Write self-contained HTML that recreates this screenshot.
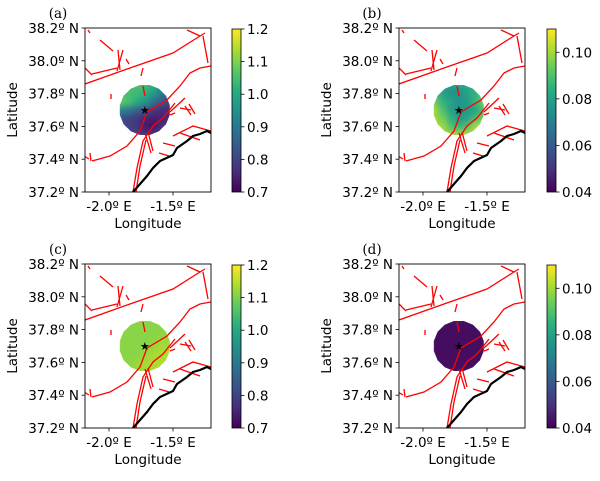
<!DOCTYPE html>
<html><head><meta charset="utf-8"><style>
body{margin:0;background:#fff}
svg text{font-family:"DejaVu Sans","Liberation Sans",sans-serif;fill:#000}
</style></head><body>
<svg id="fig" width="600" height="476" viewBox="0 0 600 476" xmlns="http://www.w3.org/2000/svg">
<defs>
<linearGradient id="vir" x1="0" y1="1" x2="0" y2="0">
<stop offset="0" stop-color="#440154"/><stop offset="0.125" stop-color="#472d7b"/><stop offset="0.25" stop-color="#3b528b"/><stop offset="0.375" stop-color="#2c728e"/><stop offset="0.5" stop-color="#21918c"/><stop offset="0.625" stop-color="#28ae80"/><stop offset="0.75" stop-color="#5ec962"/><stop offset="0.875" stop-color="#addc30"/><stop offset="1" stop-color="#fde725"/>
</linearGradient>
<filter id="blur" x="-20%" y="-20%" width="140%" height="140%"><feGaussianBlur stdDeviation="3"/></filter>
</defs>
</svg>
<script>
const lonTicks=[-2.0,-1.5];
const lonTickLabels=["-2.0º E","-1.5º E"];
const latTicks=[38.2,38.0,37.8,37.6,37.4,37.2];
const latTickLabels=["38.2º N","38.0º N","37.8º N","37.6º N","37.4º N","37.2º N"];
const cbTicksA=[0.7,0.8,0.9,1.0,1.1,1.2];
const cbLabelsA=["0.7","0.8","0.9","1.0","1.1","1.2"];
const cbTicksB=[0.04,0.06,0.08,0.10];
const cbLabelsB=["0.04","0.06","0.08","0.10"];
const epiLon=-1.72, epiLat=37.70;
const gridA=[[1.04,1.05,1.05,1.04,1.02,0.97,0.92],[1.06,1.05,1.04,1.02,0.97,0.90,0.86],[1.08,1.05,1.01,0.96,0.89,0.83,0.80],[0.92,0.90,0.85,0.82,0.78,0.76,0.76],[0.82,0.80,0.78,0.75,0.74,0.75,0.76],[0.82,0.80,0.78,0.74,0.73,0.76,0.80],[0.84,0.82,0.80,0.78,0.78,0.80,0.84]];
const gridB=[[0.085,0.08,0.078,0.08,0.082,0.085,0.09],[0.09,0.08,0.076,0.075,0.08,0.085,0.092],[0.095,0.085,0.08,0.076,0.078,0.085,0.095],[0.10,0.09,0.08,0.075,0.078,0.08,0.09],[0.10,0.095,0.085,0.078,0.08,0.088,0.095],[0.102,0.10,0.09,0.085,0.09,0.10,0.105],[0.10,0.10,0.10,0.10,0.10,0.105,0.105]];
const gridC=[[1.11,1.11,1.11,1.11,1.11,1.11,1.11],[1.11,1.11,1.11,1.11,1.11,1.11,1.12],[1.11,1.11,1.11,1.11,1.11,1.12,1.12],[1.11,1.11,1.11,1.11,1.12,1.13,1.13],[1.11,1.11,1.11,1.12,1.13,1.14,1.14],[1.11,1.11,1.12,1.13,1.14,1.14,1.14],[1.11,1.11,1.12,1.13,1.13,1.14,1.14]];
const gridD=[[0.043,0.043,0.043,0.043,0.043,0.043,0.043],[0.043,0.043,0.043,0.043,0.043,0.043,0.043],[0.043,0.043,0.043,0.043,0.043,0.043,0.043],[0.043,0.043,0.043,0.043,0.043,0.043,0.043],[0.043,0.043,0.043,0.043,0.043,0.043,0.043],[0.043,0.043,0.043,0.043,0.043,0.043,0.043],[0.043,0.043,0.043,0.043,0.043,0.043,0.043]];
const faults=[[[0,56],[45,40],[88,25],[115,8],[120,5]],[[7,46],[32,40]],[[15,12],[28,23]],[[33,22],[35,42]],[[38,22],[32,43]],[[41,31],[44,36]],[[3,2],[5,5]],[[102,2],[115,8]],[[118,8],[123,35]],[[0,40],[7,47]],[[58,40],[56,48]],[[58,58],[60,68]],[[26,66],[26,71]],
[[7,133],[25,128],[42,118],[55,103],[62,84],[82,72],[95,58],[105,45],[115,40],[126,38]],
[[48,164],[52,140],[58,113],[68,98],[78,90],[90,75]],[[51,164],[55,138],[61,112]],
[[85,84],[100,70]],[[95,80],[106,82]],[[100,78],[106,87]],[[104,76],[110,86]],[[85,87],[90,85]],
[[88,108],[108,98],[126,103]],[[95,105],[115,112]],[[78,115],[90,118]],[[74,125],[84,128]],[[60,105],[66,125]],[[63,104],[68,123]],
[[5,125],[6,133]],[[-1,128],[4,131]]];
const coast=[[48,164],[62,148],[68,140],[75,133],[88,127],[92,120],[102,113],[108,108],[115,106],[122,103],[126,105]];
const W=126,H=164, lon0=-2.1875, lon1=-1.203, lat0=37.2, lat1=38.2;
const panels=[{id:'a',x:85,y:28,grid:gridA,vmin:0.7,vmax:1.2,ticks:cbTicksA,labels:cbLabelsA,cbx:232},
{id:'b',x:399,y:28,grid:gridB,vmin:0.04,vmax:0.11,ticks:cbTicksB,labels:cbLabelsB,cbx:547},
{id:'c',x:85,y:264,grid:gridC,vmin:0.7,vmax:1.2,ticks:cbTicksA,labels:cbLabelsA,cbx:232},
{id:'d',x:399,y:264,grid:gridD,vmin:0.04,vmax:0.11,ticks:cbTicksB,labels:cbLabelsB,cbx:547}];
const vir=[[68,1,84],[71,45,123],[59,82,139],[44,114,142],[33,145,140],[40,174,128],[94,201,98],[173,220,48],[253,231,37]];
function cmap(t){t=Math.max(0,Math.min(1,t))*8;const i=Math.min(7,Math.floor(t)),f=t-i;const a=vir[i],b=vir[i+1];return 'rgb('+a.map((v,k)=>Math.round(v+(b[k]-v)*f)).join(',')+')';}
const NS='http://www.w3.org/2000/svg';
const svg=document.getElementById('fig');
const FS=13.5;
function mk(tag,attrs,parent){const e=document.createElementNS(NS,tag);for(const k in attrs)e.setAttribute(k,attrs[k]);(parent||svg).appendChild(e);return e;}
panels.forEach(p=>{
  const xs=lon=>p.x+(lon-lon0)/(lon1-lon0)*W;
  const ys=lat=>p.y+(lat1-lat)/(lat1-lat0)*H;
  const g=mk('g',{});
  
  
  const cx=xs(epiLon), cy=ys(epiLat), r=25.5;
  const cp=mk('clipPath',{id:'clip'+p.id},g);
  let pts=[];for(let k=0;k<16;k++){const a=Math.PI*2*k/16+Math.PI/16;pts.push((cx+r*Math.cos(a)).toFixed(1)+','+(cy+r*Math.sin(a)).toFixed(1));}
  mk('polygon',{points:pts.join(' ')},cp);
  const hg=mk('g',{'clip-path':'url(#clip'+p.id+')'},g);
  
  
  const inner=mk('g',{filter:'url(#blur)'},hg);
  const n=p.grid.length, cs=2*r/n;
  p.grid.forEach((row,i)=>row.forEach((v,j)=>{
    const rc=mk('rect',{x:cx-r-4+j*(cs+8/n),y:cy-r-4+i*(cs+8/n),width:cs+8/n+0.5,height:cs+8/n+0.5,fill:cmap((v-p.vmin)/(p.vmax-p.vmin))},inner);
    
    
  }));
  const fg=mk('g',{transform:'translate('+p.x+','+p.y+')'},g);
  const ccl=mk('clipPath',{id:'box'+p.id},g);mk('rect',{x:0,y:0,width:W,height:H},ccl);
  fg.setAttribute('clip-path','url(#box'+p.id+')');
  faults.forEach(f=>{const l=mk('polyline',{points:f.map(q=>q.join(',')).join(' '),fill:'none',stroke:'#ff0000','stroke-width':1.3},fg);
    });
  const co=mk('polyline',{points:coast.map(q=>q.join(',')).join(' '),fill:'none',stroke:'#000','stroke-width':2.2},fg);
  
  const st=mk('text',{x:cx,y:cy+4,'font-size':11,'text-anchor':'middle'},g);st.textContent='★';
  
  const fr=mk('rect',{x:p.x,y:p.y,width:W,height:H,fill:'none',stroke:'#000','stroke-width':0.9},g);
  
  lonTicks.forEach((t,i)=>{const x=xs(t);mk('line',{x1:x,x2:x,y1:p.y+H,y2:p.y+H+3.5,stroke:'#000','stroke-width':0.8},g);
    const tx=mk('text',{x:x,y:p.y+H+19,'font-size':FS,'text-anchor':'middle'},g);tx.textContent=lonTickLabels[i];
    });
  latTicks.forEach((t,i)=>{const y=ys(t);mk('line',{x1:p.x-3.5,x2:p.x,y1:y,y2:y,stroke:'#000','stroke-width':0.8},g);
    const tx=mk('text',{x:p.x-6,y:y+5,'font-size':FS,'text-anchor':'end'},g);tx.textContent=latTickLabels[i];
    });
  const xt=mk('text',{x:p.x+W/2,y:p.y+H+36,'font-size':FS,'text-anchor':'middle'},g);xt.textContent='Longitude';
  
  const yl=mk('text',{x:0,y:0,'font-size':FS,'text-anchor':'middle',transform:'translate('+(p.x-68)+','+(p.y+H/2)+') rotate(-90)'},g);yl.textContent='Latitude';
  
  const pl=mk('text',{x:p.x-27,y:p.y-10,'font-size':FS,'text-anchor':'middle',style:'font-family:"DejaVu Serif","Liberation Serif",serif'},g);pl.textContent='('+p.id+')';
  
  const cbw=9, cby0=p.y+1, cbh=H-1;
  const cb=mk('rect',{x:p.cbx,y:cby0,width:cbw,height:cbh,fill:'url(#vir)',stroke:'#000','stroke-width':0.8},g);
  
  const cys=v=>cby0+cbh-(v-p.vmin)/(p.vmax-p.vmin)*cbh;
  p.ticks.forEach((t,i)=>{const y=cys(t);mk('line',{x1:p.cbx+cbw,x2:p.cbx+cbw+3.5,y1:y,y2:y,stroke:'#000','stroke-width':0.8},g);
    const tx=mk('text',{x:p.cbx+cbw+6,y:y+5,'font-size':FS},g);tx.textContent=p.labels[i];
    });
});
</script>
</body></html>
